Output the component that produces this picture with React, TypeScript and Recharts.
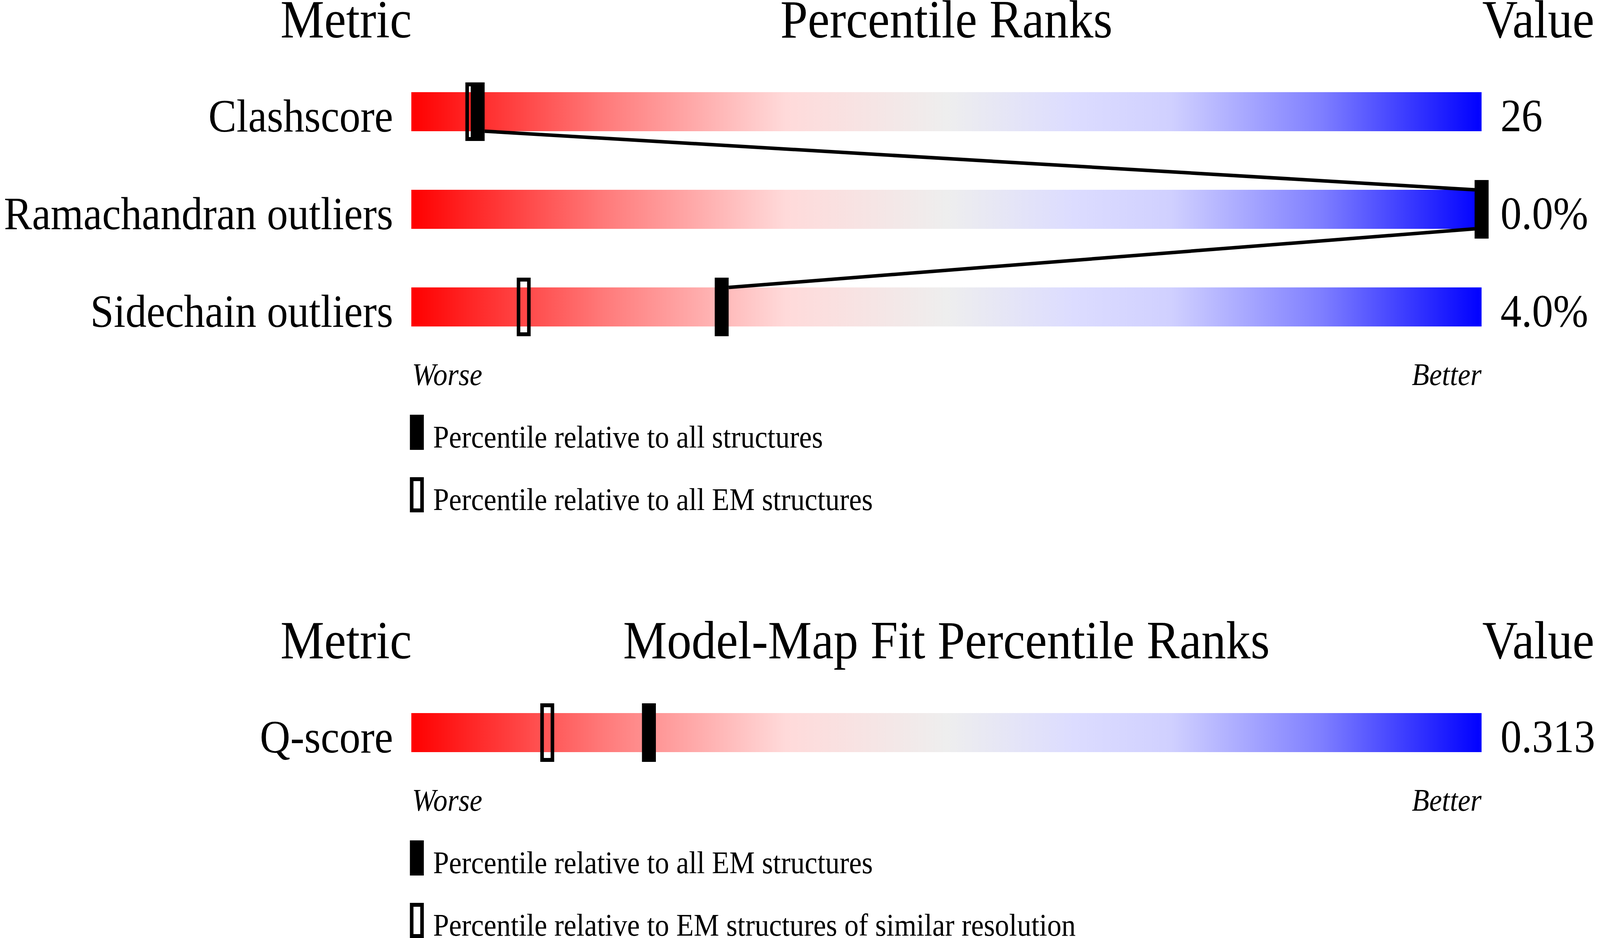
import React from 'react';
import { ComposedChart, Bar, Scatter, XAxis, YAxis, LabelList, Customized } from 'recharts';

// ---------- data ----------
const validationMetrics = ['Clashscore', 'Ramachandran outliers', 'Sidechain outliers'];
const validationValues = ['26', '0.0%', '4.0%'];
const validationPctAll = [6.2, 100, 29.0]; // relative to all structures (filled)
const validationPctEm = [5.7, 100, 10.5]; // relative to all EM structures (open)

const fitMetrics = ['Q-score'];
const fitValues = ['0.313'];
const fitPctAllEm = [22.2]; // relative to all EM structures (filled)
const fitPctSimilar = [12.7]; // relative to EM structures of similar resolution (open)

const rankDomain = [0, 100];
const rankFull = 100;

const validationLegend = ['Percentile relative to all structures', 'Percentile relative to all EM structures'];
const fitLegend = ['Percentile relative to all EM structures', 'Percentile relative to EM structures of similar resolution'];

// ---------- layout / style ----------
const FONT = '"Liberation Serif", "Times New Roman", Times, serif';
const W = 4485;
const H = 2402;
const PLOT_LEFT = 1153;
const PLOT_RIGHT = 4153;
const PLOT_TOP = 161;
const BAND = 250;
const BAR = 100;
const MARK_W = 39;
const MARK_H = 150;
const OPEN_STROKE = 10;
const LABEL_SIZE = 118;
const HEADER_SIZE = 138;
const SMALL_SIZE = 80;

const buildRows = (metrics: string[], values: string[], filled: number[], open: number[]) =>
  metrics.map((m, i) => ({ metric: m, value: values[i], full: rankFull, filled: filled[i], open: open[i] }));

const validationRows = buildRows(validationMetrics, validationValues, validationPctAll, validationPctEm);
const fitRows = buildRows(fitMetrics, fitValues, fitPctAllEm, fitPctSimilar);

const MetricTick = (props: any) => {
  const { y, payload } = props;
  return (
    <text x={PLOT_LEFT - 51} y={y + 51} textAnchor="end" fontFamily={FONT} fontSize={LABEL_SIZE} fill="#000">
      {payload.value}
    </text>
  );
};

const ValueLabel = (props: any) => {
  const vb = props.viewBox || {};
  const x = props.x ?? vb.x;
  const y = props.y ?? vb.y;
  const width = props.width ?? vb.width;
  const height = props.height ?? vb.height;
  return (
    <text x={x + width + 53} y={y + height} textAnchor="start" fontFamily={FONT} fontSize={LABEL_SIZE} fill="#000">
      {props.value}
    </text>
  );
};

const FilledMarker = (props: any) => {
  const { cx, cy } = props;
  if (cx == null || cy == null) return null;
  return <rect x={cx - MARK_W / 2} y={cy - MARK_H / 2} width={MARK_W} height={MARK_H} fill="#000" />;
};

const OpenMarker = (props: any) => {
  const { cx, cy } = props;
  if (cx == null || cy == null) return null;
  return (
    <rect
      x={cx - MARK_W / 2 + OPEN_STROKE / 2}
      y={cy - MARK_H / 2 + OPEN_STROKE / 2}
      width={MARK_W - OPEN_STROKE}
      height={MARK_H - OPEN_STROKE}
      fill="none"
      stroke="#000"
      strokeWidth={OPEN_STROKE}
    />
  );
};

const Connector = (props: any) => {
  const pts = (props.points || []).filter((p: any) => p && p.x != null && p.y != null);
  const segs: any[] = [];
  for (let i = 0; i + 1 < pts.length; i++) {
    const a = pts[i];
    const b = pts[i + 1];
    const dir = b.x >= a.x ? 1 : -1;
    const x1 = a.x + (dir * MARK_W) / 2;
    const x2 = b.x - (dir * MARK_W) / 2;
    const y1 = a.y + (b.y >= a.y ? BAR / 2 : -BAR / 2);
    const y2 = b.y - (b.y >= a.y ? BAR / 2 : -BAR / 2);
    segs.push(<line key={i} x1={x1} y1={y1} x2={x2} y2={y2} stroke="#000" strokeWidth={9} />);
  }
  return <g>{segs}</g>;
};

function Panel({ rows, title, legend, height, gradId, connect }: any) {
  const plotHeight = rows.length * BAND;
  const plotBottom = PLOT_TOP + plotHeight;
  const worseY = plotBottom + 75;
  const leg1 = worseY + 76;
  const leg2 = leg1 + 160;
  const Overlay = () => (
    <g fontFamily={FONT} fill="#000">
      <text x={970} y={96} textAnchor="middle" fontSize={HEADER_SIZE}>Metric</text>
      <text x={(PLOT_LEFT + PLOT_RIGHT) / 2} y={96} textAnchor="middle" fontSize={HEADER_SIZE}>{title}</text>
      <text x={PLOT_RIGHT + 2} y={96} textAnchor="start" fontSize={HEADER_SIZE}>Value</text>
      <text x={PLOT_LEFT + 2} y={worseY} textAnchor="start" fontSize={SMALL_SIZE} fontStyle="italic">Worse</text>
      <text x={PLOT_RIGHT} y={worseY} textAnchor="end" fontSize={SMALL_SIZE} fontStyle="italic">Better</text>
      <rect x={PLOT_LEFT - 4} y={leg1} width={MARK_W} height={90} fill="#000" />
      <text x={1214} y={leg1 + 84} fontSize={SMALL_SIZE}>{legend[0]}</text>
      <rect x={PLOT_LEFT - 4 + OPEN_STROKE / 2} y={leg2 + OPEN_STROKE / 2} width={MARK_W - OPEN_STROKE} height={90 - OPEN_STROKE} fill="none" stroke="#000" strokeWidth={OPEN_STROKE} />
      <text x={1214} y={leg2 + 84} fontSize={SMALL_SIZE}>{legend[1]}</text>
    </g>
  );
  return (
    <ComposedChart
      layout="vertical"
      width={W}
      height={height}
      data={rows}
      margin={{ top: PLOT_TOP, right: W - PLOT_RIGHT, bottom: height - plotBottom, left: 0 }}
    >
      <defs>
        <linearGradient id={gradId} x1="0" y1="0" x2="1" y2="0">
          <stop offset="0%" stopColor="#ff0000" />
          <stop offset="18%" stopColor="#ff7a7a" />
          <stop offset="35%" stopColor="#ffdada" />
          <stop offset="50%" stopColor="#eeeeee" />
          <stop offset="62%" stopColor="#dcdcff" />
          <stop offset="71%" stopColor="#d0d0ff" />
          <stop offset="85%" stopColor="#7f7fff" />
          <stop offset="100%" stopColor="#0000ff" />
        </linearGradient>
      </defs>
      <XAxis type="number" domain={rankDomain} hide height={0} />
      <YAxis
        type="category"
        dataKey="metric"
        width={PLOT_LEFT}
        axisLine={false}
        tickLine={false}
        interval={0}
        tick={<MetricTick />}
      />
      <Bar dataKey="full" barSize={BAR} fill={`url(#${gradId})`} isAnimationActive={false}>
        <LabelList dataKey="value" content={<ValueLabel />} />
      </Bar>
      <Scatter dataKey="open" shape={<OpenMarker />} isAnimationActive={false} />
      <Scatter
        dataKey="filled"
        shape={<FilledMarker />}
        line={connect ? (p: any) => <Connector {...p} /> : false}
        isAnimationActive={false}
      />
      <Customized component={Overlay} />
    </ComposedChart>
  );
}

export default function App() {
  const hasWin = typeof window !== 'undefined';
  const iw = hasWin && window.innerWidth ? window.innerWidth : W;
  const ih = hasWin && window.innerHeight ? window.innerHeight : H;
  // the browser viewport may be narrower than the requested canvas: fit the drawing to it
  const sx = Math.min(1, iw / W);
  const sy = Math.min(1, ih / H);
  return (
    <div style={{ position: 'absolute', left: 0, top: 0, width: W * sx, height: H * sy, overflow: 'hidden', background: '#fff' }}>
      <div style={{ position: 'absolute', left: 0, top: 0, width: W, height: H, transform: `scale(${sx}, ${sy})`, transformOrigin: '0 0' }}>
        <div style={{ position: 'absolute', left: 0, top: 0 }}>
          <Panel rows={validationRows} title="Percentile Ranks" legend={validationLegend} height={1340} gradId="gradTop" connect />
        </div>
        <div style={{ position: 'absolute', left: 0, top: 1590 }}>
          <Panel rows={fitRows} title="Model-Map Fit Percentile Ranks" legend={fitLegend} height={812} gradId="gradBottom" connect={false} />
        </div>
      </div>
    </div>
  );
}
